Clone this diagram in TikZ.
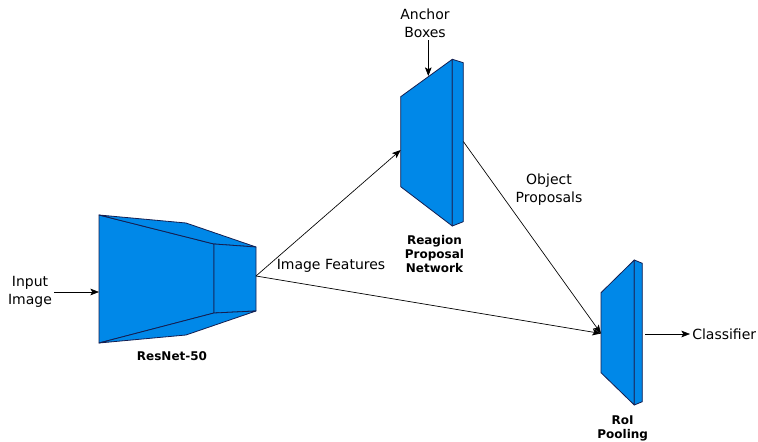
\documentclass[tikz,border=0pt]{standalone}
\usepackage{fontspec}
\setmainfont{DejaVu Sans}
\usetikzlibrary{arrows.meta,positioning}
\definecolor{netblue}{RGB}{0,136,232}
\definecolor{netedge}{RGB}{20,30,80}

\begin{document}
\begin{tikzpicture}[x=0.75pt,y=-0.75pt,
    block/.style={fill=netblue,draw=netedge,line width=0.6pt,line join=round},
    flow/.style={-{Stealth[length=6.5pt,width=5pt,inset=1.5pt]},line width=0.5pt},
    caption/.style={font=\fontsize{9}{10.5}\selectfont\bfseries,align=center},
    tag/.style={font=\fontsize{10.5}{13.5}\selectfont,align=center,inner sep=1.5pt}]

	\useasboundingbox (0,0) rectangle (758,442);

	% Draw the ResNet-50 block.
	\draw [block] (99,215) -- (214,244) -- (214,313) -- (99,343) -- cycle;
	\draw [block] (99,215) -- (186,223) -- (256,247) -- (214,244) -- cycle;
	\draw [block] (214,244) -- (256,247) -- (256,311) -- (214,313) -- cycle;
	\draw [block] (99,343) -- (214,313) -- (256,311) -- (186,335) -- cycle;
	\coordinate (resIn) at (99,292);
	\coordinate (resOut) at (256,276);
	\node [caption] (resLabel) at (172,356) {ResNet-50};

	% Draw the region proposal network block.
	\draw [block] (400.7,96.7) -- (452.3,59.3) -- (452.3,226) -- (400.7,186.7) -- cycle;
	\draw [block] (452.3,59.3) -- (463.3,62.7) -- (463.3,221.7) -- (452.3,226) -- cycle;
	\coordinate (rpnTop) at (428.3,76);
	\coordinate (rpnIn) at (400.7,150);
	\coordinate (rpnOut) at (463.3,141.5);
	\node [caption] (rpnLabel) at (434.5,254) {Reagion\\Proposal\\Network};

	% Draw the RoI pooling block.
	\draw [block] (601,292.7) -- (634.3,260) -- (634.3,405) -- (601,372.7) -- cycle;
	\draw [block] (634.3,260) -- (642.3,263.3) -- (642.3,401.7) -- (634.3,405) -- cycle;
	\coordinate (roiIn) at (601,333.5);
	\coordinate (roiOut) at (645,334);
	\node [caption] (roiLabel) at (622.7,428) {RoI\\Pooling};

	% Texts and connections.
	\node [tag] (input) at (30,292) {Input\\Image};
	\node [tag] (anchor) at (425,23.5) {Anchor\\Boxes};
	\node [tag] (features) at (331,265.5) {Image Features};
	\node [tag] (proposals) at (549,190) {Object\\Proposals};
	\node [tag, anchor=west] (classifier) at (690,334) {Classifier};

	\draw [flow] (input.east) -- (resIn);
	\draw [flow] (anchor.south -| rpnTop) -- (rpnTop);
	\draw [flow] (resOut) -- (rpnIn);
	\draw [flow] (resOut) -- (roiIn);
	\draw [flow] (rpnOut) -- (roiIn);
	\draw [flow] (roiOut) -- (classifier.west);
\end{tikzpicture}
\end{document}
